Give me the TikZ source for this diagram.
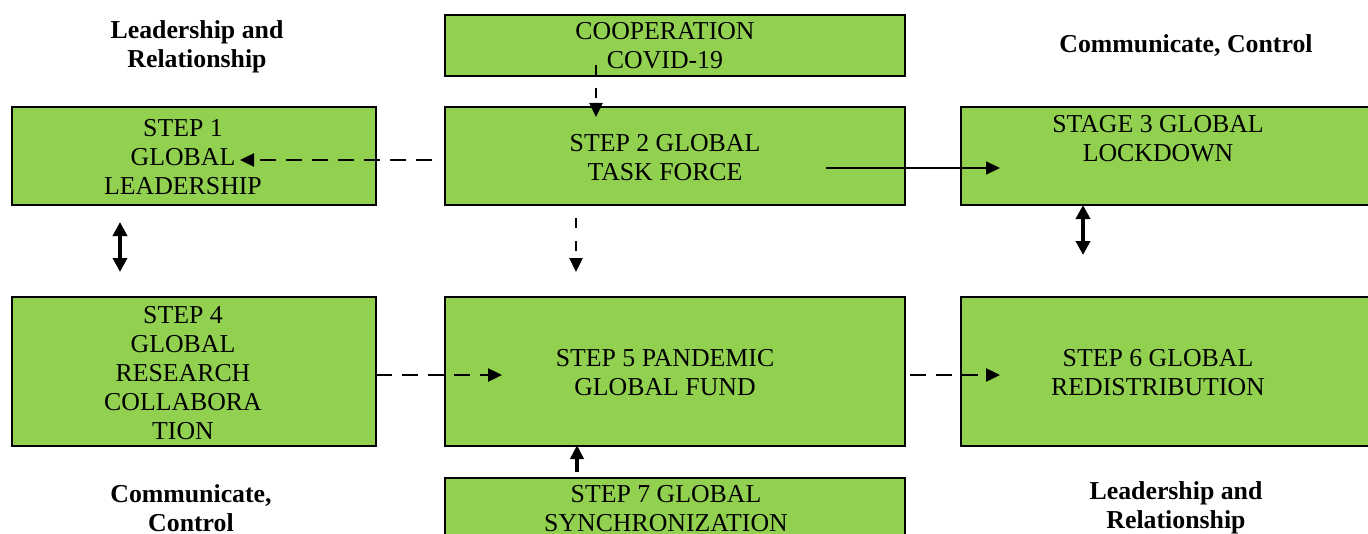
\documentclass[tikz,border=0pt]{standalone}
\usepackage{fontspec}
\setmainfont{Liberation Serif}
\usetikzlibrary{arrows.meta}
\definecolor{boxgreen}{HTML}{92D050}
\tikzset{
  box/.style={draw=black, line width=1.1pt, fill=boxgreen, inner sep=0pt},
  txt/.style={align=center, font=\fontsize{12.9pt}{14.6pt}\selectfont, inner sep=0pt},
  lbl/.style={align=center, font=\fontsize{12.9pt}{14.6pt}\selectfont\bfseries, inner sep=0pt},
  arr/.style={line width=1.2pt, -{Triangle[length=7pt,width=6.5pt]}},
  dsh/.style={arr, dash pattern=on 8pt off 5pt},
  dbl/.style={line width=1.8pt, {Triangle[length=7pt,width=7pt]}-{Triangle[length=7pt,width=7pt]}}
}
\begin{document}
\begin{tikzpicture}[x=0.5pt, y=-0.5pt]
\useasboundingbox (0,0) rectangle (1368,534);
% boxes
\node[box, minimum width=230pt, minimum height=30.5pt] (coop) at (675,45.5) {};
\node[box, minimum width=230pt, minimum height=49pt] (s2) at (675,156) {};
\node[box, minimum width=182pt, minimum height=49pt] (s1) at (194,156) {};
\node[box, minimum width=205.5pt, minimum height=49pt] (s3) at (1166.5,156) {};
\node[box, minimum width=182pt, minimum height=74.5pt] (s4) at (194,371.5) {};
\node[box, minimum width=230pt, minimum height=74.5pt] (s5) at (675,371.5) {};
\node[box, minimum width=205.5pt, minimum height=74.5pt] (s6) at (1166.5,371.5) {};
\node[box, minimum width=230pt, minimum height=41pt] (s7) at (675,519) {};
% box texts
\node[txt] (tcoop) at (665,46) {COOPERATION\\COVID-19};
\node[txt] (ts2) at (665,157.5) {STEP 2 GLOBAL\\TASK FORCE};
\node[txt] (ts1) at (183,157) {STEP 1\\GLOBAL\\LEADERSHIP};
\node[txt] (ts3) at (1158,138.5) {STAGE 3 GLOBAL\\LOCKDOWN};
\node[txt] (ts4) at (183,373) {STEP 4\\GLOBAL\\RESEARCH\\COLLABORA\\TION};
\node[txt] (ts5) at (665,372.5) {STEP 5 PANDEMIC\\GLOBAL FUND};
\node[txt] (ts6) at (1158,372.5) {STEP 6 GLOBAL\\REDISTRIBUTION};
\node[txt] (ts7) at (666,508.5) {STEP 7 GLOBAL\\SYNCHRONIZATION};
% labels
\node[lbl] (l1) at (197,47) {Leadership and\\Relationship};
\node[lbl] (l2) at (1186,46) {Communicate, Control};
\node[lbl] (l3) at (191,508) {Communicate,\\Control};
\node[lbl] (l4) at (1176,508) {Leadership and\\Relationship};
% connector end points
\coordinate (a1s) at (596,65);   \coordinate (a1e) at (596,117);
\coordinate (a2s) at (432,160);  \coordinate (a2e) at (240,160);
\coordinate (a3s) at (826,168);  \coordinate (a3e) at (1000,168);
\coordinate (b1s) at (120,222);  \coordinate (b1e) at (120,272);
\coordinate (b2s) at (1083,205); \coordinate (b2e) at (1083,255);
\coordinate (a4s) at (576,218);  \coordinate (a4e) at (576,272);
\coordinate (a5s) at (376,375);  \coordinate (a5e) at (502,375);
\coordinate (a6s) at (910,375);  \coordinate (a6e) at (1000,375);
\coordinate (a7s) at (577,472);  \coordinate (a7e) at (577,445);
% connectors
\draw[arr, dash pattern=on 5pt off 6.5pt] (a1s) -- (a1e);
\draw[dsh] (a2s) -- (a2e);
\draw[arr, line width=1pt] (a3s) -- (a3e);
\draw[dbl] (b1s) -- (b1e);
\draw[dbl] (b2s) -- (b2e);
\draw[arr, dash pattern=on 5pt off 6.5pt] (a4s) -- (a4e);
\draw[dsh] (a5s) -- (a5e);
\draw[dsh] (a6s) -- (a6e);
\draw[arr, line width=1.8pt] (a7s) -- (a7e);
\end{tikzpicture}
\end{document}
